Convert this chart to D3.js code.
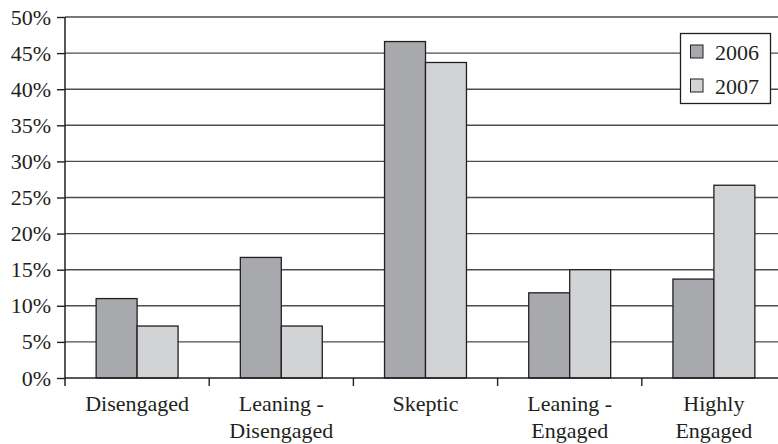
<!DOCTYPE html>
<html>
<head>
<meta charset="utf-8">
<script src="https://cdn.jsdelivr.net/npm/d3@7"></script>
<style>
  html, body { margin: 0; padding: 0; background: #fff; }
  svg text { font-family: "Liberation Serif", "DejaVu Serif", serif; fill: #231f20; }
</style>
</head>
<body>
<svg id="chart" width="778" height="444"></svg>
<script>
// Engagement segments, share of respondents by year
const categories = [["Disengaged"], ["Leaning -", "Disengaged"], ["Skeptic"], ["Leaning -", "Engaged"], ["Highly", "Engaged"]];
const years = ["2006", "2007"];
const values2006 = [11.0, 16.7, 46.6, 11.8, 13.7];
const values2007 = [7.2, 7.2, 43.7, 15.0, 26.7];
const yTicks = [0, 5, 10, 15, 20, 25, 30, 35, 40, 45, 50];
const colors = ["#a7a9ac", "#d1d3d4"];

const svg = d3.select("#chart");
const plotLeft = 65, plotRight = 786, plotTop = 17, plotBottom = 378;

const x = d3.scaleBand().domain(d3.range(categories.length)).range([plotLeft, plotRight]).padding(0);
const inner = d3.scaleBand().domain(years).range([0, x.bandwidth()]).paddingOuter(0.76).paddingInner(0);
const y = d3.scaleLinear().domain([0, 50]).range([plotBottom, plotTop]);

// horizontal gridlines
svg.append("g").selectAll("line").data(yTicks.filter(d => d > 0)).join("line")
  .attr("x1", plotLeft).attr("x2", plotRight)
  .attr("y1", d => y(d)).attr("y2", d => y(d))
  .attr("stroke", "#4d4d4f").attr("stroke-width", 1.4);

// bars
const series = [values2006, values2007];
const groups = svg.append("g").selectAll("g").data(categories.map((c, i) => i)).join("g")
  .attr("transform", i => `translate(${x(i)},0)`);
groups.selectAll("rect").data(i => years.map((yr, k) => ({ yr, v: series[k][i], k }))).join("rect")
  .attr("x", d => inner(d.yr))
  .attr("width", inner.bandwidth())
  .attr("y", d => y(d.v))
  .attr("height", d => y(0) - y(d.v))
  .attr("fill", d => colors[d.k])
  .attr("stroke", "#231f20").attr("stroke-width", 1.3);

// y axis
const yAxis = d3.axisLeft(y).tickValues(yTicks).tickSize(8).tickPadding(6).tickFormat(d => d + "%");
const ya = svg.append("g").attr("transform", `translate(${plotLeft},0)`).call(yAxis);
ya.select(".domain").attr("d", `M0,${plotTop}V${plotBottom + 8}`).attr("stroke", "#231f20").attr("stroke-width", 1.5);
ya.selectAll(".tick line").attr("stroke", "#231f20").attr("stroke-width", 1.4);
ya.selectAll(".tick text").style("font-family", '"Liberation Serif", serif').style("font-size", "22px").attr("fill", "#231f20");

// x axis line and category boundary ticks
svg.append("line").attr("x1", plotLeft).attr("x2", plotRight).attr("y1", plotBottom).attr("y2", plotBottom)
  .attr("stroke", "#231f20").attr("stroke-width", 1.5);
svg.append("g").selectAll("line").data(d3.range(1, categories.length + 1)).join("line")
  .attr("x1", i => plotLeft + i * x.step())
  .attr("x2", i => plotLeft + i * x.step())
  .attr("y1", plotBottom).attr("y2", plotBottom + 8)
  .attr("stroke", "#231f20").attr("stroke-width", 1.4);

// category labels
const labels = svg.append("g").selectAll("text").data(categories).join("text")
  .attr("x", (d, i) => x(i) + x.bandwidth() / 2)
  .attr("y", 411)
  .attr("text-anchor", "middle")
  .style("font-size", "22px");
labels.selectAll("tspan").data(d => d).join("tspan")
  .attr("x", function () { return this.parentNode.getAttribute("x"); })
  .attr("dy", (d, j) => j === 0 ? 0 : 27)
  .text(d => d);

// legend
const lg = svg.append("g");
lg.append("rect").attr("x", 680.5).attr("y", 33.5).attr("width", 90).attr("height", 70)
  .attr("fill", "#fff").attr("stroke", "#231f20").attr("stroke-width", 1.3);
years.forEach((yr, k) => {
  const cy = 51.5 + k * 34;
  lg.append("rect").attr("x", 690.5).attr("y", cy - 6.5).attr("width", 12.5).attr("height", 13)
    .attr("fill", colors[k]).attr("stroke", "#231f20").attr("stroke-width", 1);
  lg.append("text").attr("x", 715).attr("y", cy + 8).style("font-size", "22px").text(yr);
});
</script>
</body>
</html>
